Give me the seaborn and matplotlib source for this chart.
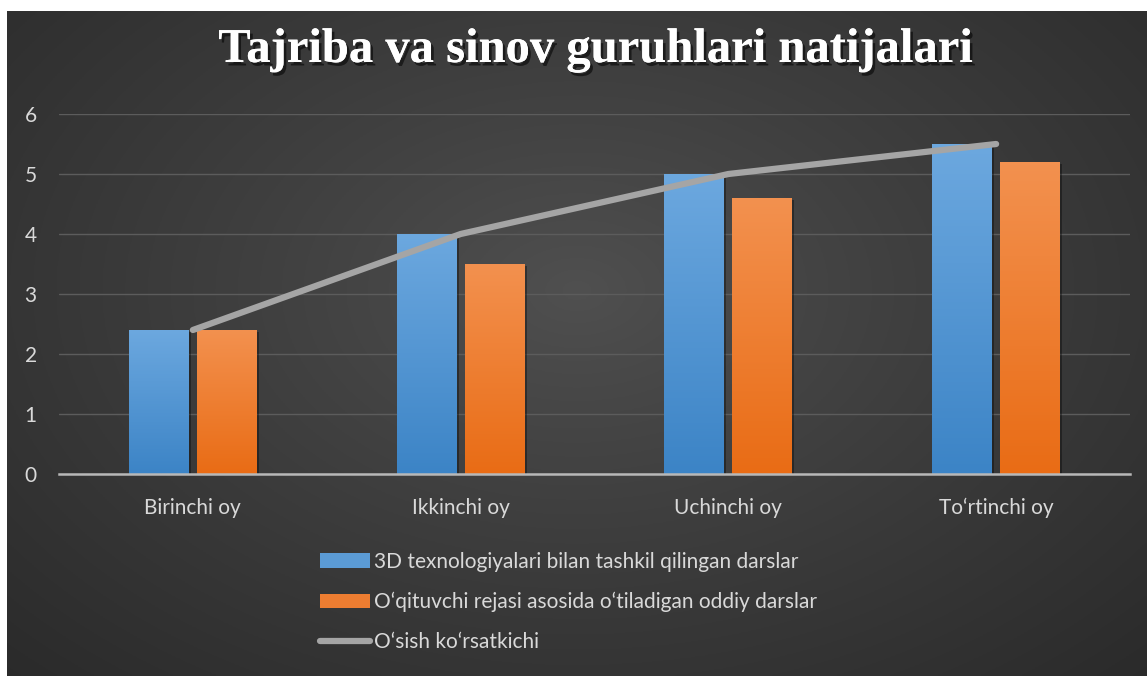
import numpy as np
import pandas as pd
import seaborn as sns
import matplotlib.pyplot as plt
import matplotlib.patheffects as pe
from matplotlib.patches import Patch
from matplotlib.lines import Line2D
from matplotlib.colors import to_rgb

# ma'lumotlar
oylar = ['Birinchi oy', 'Ikkinchi oy', 'Uchinchi oy', 'To\u2018rtinchi oy']
tajriba = [2.4, 4.0, 5.0, 5.5]
oddiy = [2.4, 3.5, 4.6, 5.2]
osish = [2.4, 4.0, 5.0, 5.5]
guruhlar = ['3D texnologiyalari bilan tashkil qilingan darslar',
            'O\u2018qituvchi rejasi asosida o\u2018tiladigan oddiy darslar']
chiziq_nomi = 'O\u2018sish ko\u2018rsatkichi'
sarlavha = 'Tajriba va sinov guruhlari natijalari'

ko_k = '#5b9bd5'
sariq = '#ed7d31'
kulrang = '#a5a5a5'
matn_rangi = '#d9d9d9'

df = pd.DataFrame({
    'oy': oylar * 2,
    'qiymat': tajriba + oddiy,
    'guruh': [guruhlar[0]] * 4 + [guruhlar[1]] * 4,
})

sns.set_style('dark')
plt.rcParams['font.family'] = ['Lato', 'DejaVu Sans']

W, H = 1147, 676
fig = plt.figure(figsize=(W / 100, H / 100), dpi=100, facecolor='white')

# fon (radial gradient)
bg = fig.add_axes([7 / W, 0, 1 - 7 / W, 1 - 11 / H], zorder=-10)
yy, xx = np.mgrid[0:1:300j, 0:1:500j]
r = np.sqrt(((xx - 0.5) / 0.75) ** 2 + ((yy - 0.42) / 0.85) ** 2)
r = np.clip(r, 0, 1)
v = (0x50 - (0x50 - 0x29) * r ** 0.9) / 255
bg.imshow(np.dstack([v, v, v]), aspect='auto', extent=[0, 1, 1, 0])
bg.set_axis_off()

ax = fig.add_axes([59 / W, 1 - 474 / H, (1130 - 59) / W, (474 - 114) / H])
ax.patch.set_alpha(0)

sns.barplot(data=df, x='oy', y='qiymat', hue='guruh', palette=[ko_k, sariq],
            width=0.507, gap=0.117, saturation=1, edgecolor='none', linewidth=0,
            legend=False, ax=ax, zorder=3)

# bar ichida gradient
grad_ranglar = {ko_k: ('#6ca8df', '#3c84c6'), sariq: ('#f3914f', '#e96c15')}
for p in list(ax.patches):
    fc = p.get_facecolor()[:3]
    p.set_path_effects([pe.withSimplePatchShadow(offset=(1.5, -1.5), shadow_rgbFace='black', alpha=0.35),
                        pe.Normal()])
    for k, (top, bot) in grad_ranglar.items():
        if np.allclose(fc, to_rgb(k), atol=0.03):
            t = np.array(to_rgb(top))
            b = np.array(to_rgb(bot))
            s = np.linspace(0, 1, 100)[:, None]
            img = (t * (1 - s) + b * s)[:, None, :]
            x0, y0 = p.get_x(), p.get_y()
            im = ax.imshow(img, aspect='auto', zorder=3.5,
                           extent=[x0, x0 + p.get_width(), y0, y0 + p.get_height()])
            im.set_clip_path(p)

sns.lineplot(x=np.arange(len(oylar)), y=osish, color=kulrang, lw=4.5, ax=ax,
             zorder=5, solid_capstyle='round', solid_joinstyle='round')

ax.set_xlim(-0.5, len(oylar) - 0.5)
ax.set_ylim(0, 6)
ax.set_yticks(range(0, 7))
ax.set_xlabel('')
ax.set_ylabel('')
ax.grid(axis='y', color='#5c5c5c', lw=1, zorder=0)
ax.grid(axis='x', visible=False)
for sp in ['top', 'right', 'left']:
    ax.spines[sp].set_visible(False)
ax.spines['bottom'].set_color('#b8b8b8')
ax.spines['bottom'].set_linewidth(1.8)
ax.spines['bottom'].set_zorder(6)
ax.tick_params(axis='y', length=0, pad=16, labelsize=15, labelcolor=matn_rangi)
ax.tick_params(axis='x', length=0, pad=17, labelsize=15, labelcolor=matn_rangi)

fig.text(596 / W, 1 - 50 / H, sarlavha, ha='center', va='center',
         fontsize=35, fontweight='bold', color='white',
         family=['Liberation Serif', 'DejaVu Serif'],
         path_effects=[pe.withSimplePatchShadow(offset=(2, -2.5), shadow_rgbFace='black', alpha=0.55),
                       pe.Normal()])

handles = [Patch(facecolor=ko_k, edgecolor='none'),
           Patch(facecolor=sariq, edgecolor='none'),
           Line2D([0], [0], color=kulrang, lw=4.5, solid_capstyle='round')]
leg = fig.legend(handles, guruhlar + [chiziq_nomi], loc='upper left',
                 bbox_to_anchor=(320 / W, 1 - 552 / H), frameon=False,
                 fontsize=15, labelcolor=matn_rangi, handlelength=2.4,
                 handletextpad=0.2, labelspacing=0.95, borderpad=0, borderaxespad=0)

fig.savefig('out.png', dpi=100, facecolor=fig.get_facecolor())
